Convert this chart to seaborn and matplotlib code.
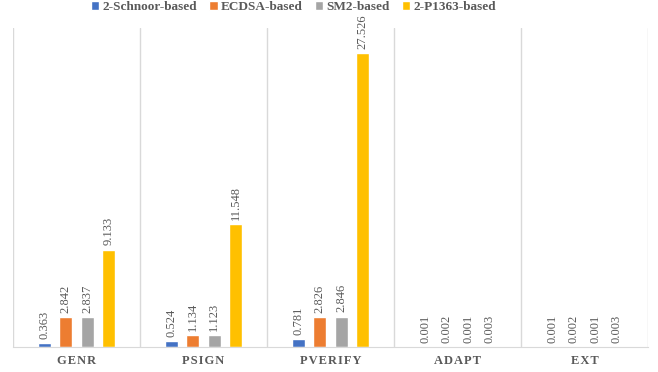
import matplotlib
matplotlib.use("Agg")
import matplotlib.pyplot as plt
import seaborn as sns
import pandas as pd

categories = ["GENR", "PSIGN", "PVERIFY", "ADAPT", "EXT"]
schemes = ["2-Schnoor-based", "ECDSA-based", "SM2-based", "2-P1363-based"]
schnoor = [0.363, 0.524, 0.781, 0.001, 0.001]
ecdsa = [2.842, 1.134, 2.826, 0.002, 0.002]
sm2 = [2.837, 1.123, 2.846, 0.001, 0.001]
p1363 = [9.133, 11.548, 27.526, 0.003, 0.003]
colors = ["#4472C4", "#ED7D31", "#A5A5A5", "#FFC000"]

rows = []
for name, vals in zip(schemes, [schnoor, ecdsa, sm2, p1363]):
    for cat, v in zip(categories, vals):
        rows.append({"op": cat, "scheme": name, "time": v})
df = pd.DataFrame(rows)

sns.set_style("white")
plt.rcParams["font.family"] = ["Liberation Serif", "DejaVu Serif"]

fig = plt.figure(figsize=(6.58, 3.72), dpi=100)
ax = fig.add_axes([13 / 658, 1 - 347 / 372, 635 / 658, 319 / 372])

sns.barplot(data=df, x="op", y="time", hue="scheme", order=categories,
            hue_order=schemes, palette=colors, saturation=1, width=0.68,
            gap=0.4, errorbar=None, ax=ax, legend=True)

text_gray = "#595959"
for container in ax.containers:
    ax.bar_label(container, labels=[f"{v:.3f}" for v in container.datavalues],
                 rotation=90, padding=3, fontsize=9, color=text_gray)

ax.set_ylim(0, 29.9)
ax.set_xlim(-0.5, len(categories) - 0.5)
ax.set_yticks([])
ax.set_xlabel("")
ax.set_ylabel("")

# category separators
for b in range(len(categories) + 1):
    ax.axvline(b - 0.5, color="#D9D9D9", lw=1, zorder=0)

for side in ["top", "right", "left"]:
    ax.spines[side].set_visible(False)
ax.spines["bottom"].set_color("#D9D9D9")
ax.tick_params(axis="x", length=0, pad=6)
ax.set_xticks(range(len(categories)))
ax.set_xticklabels(["\u200a".join(c) for c in categories],
                   fontweight="bold", fontsize=9, color=text_gray)

handles, labels = ax.get_legend_handles_labels()
leg = fig.legend(handles, labels, loc="upper center", bbox_to_anchor=(0.446, 1.028),
                 ncol=4, frameon=False, handlelength=0.65, handleheight=0.65,
                 handletextpad=0.25, columnspacing=0.9,
                 prop={"weight": "bold", "size": 9.5})
for t in leg.get_texts():
    t.set_color(text_gray)
ax.get_legend().remove()

fig.savefig("out.png", dpi=100)
